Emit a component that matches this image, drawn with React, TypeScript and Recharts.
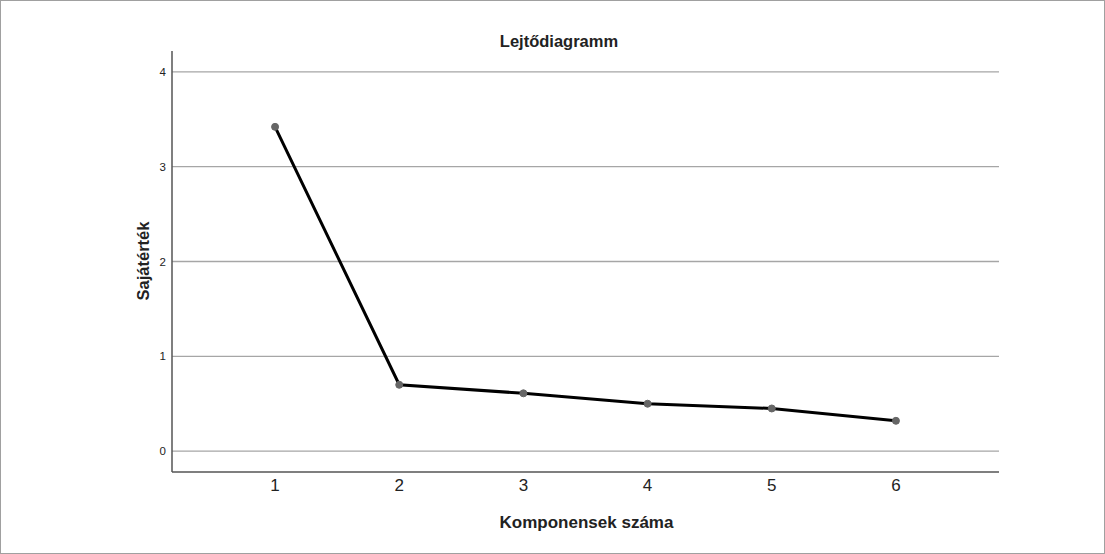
import { LineChart, Line, XAxis, YAxis, CartesianGrid } from "recharts"

const components = [1, 2, 3, 4, 5, 6]
const eigenvalues = [3.42, 0.7, 0.61, 0.5, 0.45, 0.32]
const yTicks = [0, 1, 2, 3, 4]

const data = components.map((c, i) => ({ comp: c, value: eigenvalues[i] }))

const font = "'Liberation Sans', Arial, sans-serif"

export default function App() {
    return (
        <div
            style={{
                position: "absolute",
                left: 0,
                top: 0,
                width: 1105,
                height: 554,
                border: "1px solid #a0a0a0",
                boxSizing: "border-box",
                background: "#fff",
                fontFamily: font,
            }}
        >
            <div style={{ position: "absolute", top: 31, left: 458, width: 200, textAlign: "center", fontWeight: 700, fontSize: 16.5, color: "#222" }}>
                Lejtődiagramm
            </div>

            <div
                style={{
                    position: "absolute",
                    left: 142,
                    top: 260,
                    transform: "translate(-50%, -50%) rotate(-90deg)",
                    fontWeight: 700,
                    fontSize: 16.5,
                    color: "#222",
                    whiteSpace: "nowrap",
                }}
            >
                Sajátérték
            </div>

            <div style={{ position: "absolute", top: 512, left: 172, width: 827, textAlign: "center", fontWeight: 700, fontSize: 17, color: "#222" }}>
                Komponensek száma
            </div>

            <div style={{ position: "absolute", left: -1, top: -1 }}>
                <LineChart width={1105} height={554} data={data} margin={{ top: 51, right: 106, bottom: 0, left: 0 }}>
                    <CartesianGrid vertical={false} horizontalValues={yTicks} stroke="#a6a6a6" strokeWidth={1.3} />
                    <XAxis
                        dataKey="comp"
                        type="number"
                        domain={[0.17, 6.83]}
                        ticks={components}
                        height={82}
                        stroke="#555"
                        strokeWidth={1.5}
                        tickLine={false}
                        tickMargin={1}
                        tick={{ fill: "#222", fontSize: 17, fontFamily: font }}
                        allowDataOverflow
                    />
                    <YAxis
                        type="number"
                        domain={[-0.22, 4.22]}
                        ticks={yTicks}
                        width={172}
                        stroke="#555"
                        strokeWidth={1.5}
                        tickLine={false}
                        tickSize={4}
                        tickMargin={2}
                        tick={{ fill: "#222", fontSize: 11.5, fontFamily: font }}
                        allowDataOverflow
                    />
                    <Line
                        type="linear"
                        dataKey="value"
                        stroke="#000"
                        strokeWidth={3}
                        dot={{ r: 3.5, fill: "#666", stroke: "#666", strokeWidth: 1 }}
                        activeDot={false}
                        isAnimationActive={false}
                    />
                </LineChart>
            </div>
        </div>
    )
}
